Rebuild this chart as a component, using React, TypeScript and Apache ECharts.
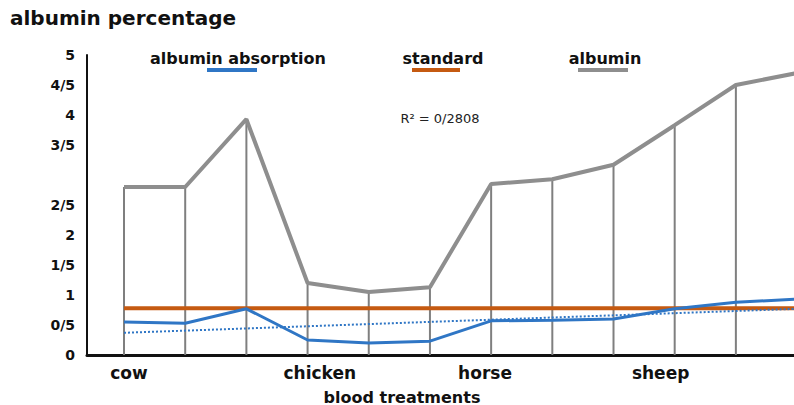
import React, { useEffect, useRef } from "react";
import * as echarts from "echarts";

// ---- data ----
const pointIndex = [0, 1, 2, 3, 4, 5, 6, 7, 8, 9, 10, 11];
const albumin = [2.8, 2.8, 3.93, 1.2, 1.05, 1.13, 2.85, 2.93, 3.17, 3.83, 4.5, 4.7];
const absorption = [0.55, 0.53, 0.77, 0.25, 0.2, 0.23, 0.57, 0.58, 0.6, 0.77, 0.88, 0.93];
const standard = [0.78, 0.78, 0.78, 0.78, 0.78, 0.78, 0.78, 0.78, 0.78, 0.78, 0.78, 0.78];
const trendX = [0, 11];
const trendY = [0.37, 0.77];
const groupLabels = ["cow", "chicken", "horse", "sheep"];
const groupLabelAt = [0.08, 3.2, 5.9, 8.77];
const yTickLabels = ["0", "0/5", "1", "1/5", "2", "2/5", "", "3/5", "4", "4/5", "5"];
const rSquaredText = "R² = 0/2808";

const FONT = "DejaVu Sans";
const BLUE = "#2f76c5";
const ORANGE = "#c55a11";
const GRAY = "#8e8e8e";

export default function App() {
  const ref = useRef<HTMLDivElement>(null);
  useEffect(() => {
    if (!ref.current) return;
    const chart = echarts.init(ref.current, null, { renderer: "svg" });
    const pairs = (ys: number[]) => pointIndex.map((x, i) => [x, ys[i]]);
    chart.setOption({
      animation: false,
      backgroundColor: "#ffffff",
      grid: { left: 87, right: 0, top: 55, bottom: 50, containLabel: false },
      xAxis: {
        type: "value",
        min: -0.605,
        max: 10.95,
        splitLine: { show: false },
        axisTick: { show: false },
        axisLine: { show: true, onZero: false, lineStyle: { color: "#111", width: 3 } },
        axisLabel: {
          customValues: groupLabelAt,
          formatter: (v: number) => {
            const i = groupLabelAt.findIndex((p) => Math.abs(p - v) < 1e-6);
            return i >= 0 ? groupLabels[i] : "";
          },
          color: "#111",
          fontFamily: FONT,
          fontWeight: "bold",
          fontSize: 17,
          margin: 9,
        },
      },
      yAxis: {
        type: "value",
        min: 0,
        max: 5,
        interval: 0.5,
        splitLine: { show: false },
        axisTick: { show: false },
        axisLine: { show: true, onZero: false, lineStyle: { color: "#111", width: 2 } },
        axisLabel: {
          formatter: (v: number) => yTickLabels[Math.round(v * 2)] ?? "",
          color: "#111",
          fontFamily: FONT,
          fontWeight: "bold",
          fontSize: 14,
          margin: 12,
        },
      },
      series: [
        {
          type: "bar",
          data: pairs(albumin),
          barWidth: 2,
          itemStyle: { color: "#7f7f7f" },
          z: 1,
        },
        {
          type: "line",
          data: pairs(albumin),
          symbol: "none",
          lineStyle: { color: GRAY, width: 4 },
          z: 3,
        },
        {
          type: "line",
          data: pairs(standard),
          symbol: "none",
          lineStyle: { color: ORANGE, width: 4 },
          z: 4,
        },
        {
          type: "line",
          data: trendX.map((x, i) => [x, trendY[i]]),
          symbol: "none",
          lineStyle: { color: BLUE, width: 2, type: "dotted" },
          z: 5,
        },
        {
          type: "line",
          data: pairs(absorption),
          symbol: "none",
          lineStyle: { color: BLUE, width: 3 },
          z: 6,
        },
      ],
      graphic: [
        {
          type: "text",
          left: 10,
          top: 8,
          style: { text: "albumin percentage", fill: "#111", font: `bold 20px "${FONT}"` },
        },
        {
          type: "text",
          x: 238,
          y: 58,
          style: {
            text: "albumin absorption",
            fill: "#111",
            font: `bold 16px "${FONT}"`,
            align: "center",
            verticalAlign: "middle",
          },
        },
        { type: "rect", shape: { x: 207, y: 68, width: 50, height: 4 }, style: { fill: BLUE } },
        {
          type: "text",
          x: 443,
          y: 58,
          style: {
            text: "standard",
            fill: "#111",
            font: `bold 16px "${FONT}"`,
            align: "center",
            verticalAlign: "middle",
          },
        },
        { type: "rect", shape: { x: 412, y: 68, width: 48, height: 4 }, style: { fill: ORANGE } },
        {
          type: "text",
          x: 605,
          y: 58,
          style: {
            text: "albumin",
            fill: "#111",
            font: `bold 16px "${FONT}"`,
            align: "center",
            verticalAlign: "middle",
          },
        },
        { type: "rect", shape: { x: 578, y: 68, width: 50, height: 4 }, style: { fill: GRAY } },
        {
          type: "text",
          x: 440,
          y: 118,
          style: {
            text: rSquaredText,
            fill: "#222",
            font: `13px "${FONT}"`,
            align: "center",
            verticalAlign: "middle",
          },
        },
        {
          type: "text",
          x: 402,
          y: 397,
          style: {
            text: "blood treatments",
            fill: "#111",
            font: `bold 16px "${FONT}"`,
            align: "center",
            verticalAlign: "middle",
          },
        },
      ],
    });
    return () => chart.dispose();
  }, []);
  return (
    <div
      ref={ref}
      style={{ position: "fixed", left: 0, top: 0, width: 794, height: 405 }}
    />
  );
}
